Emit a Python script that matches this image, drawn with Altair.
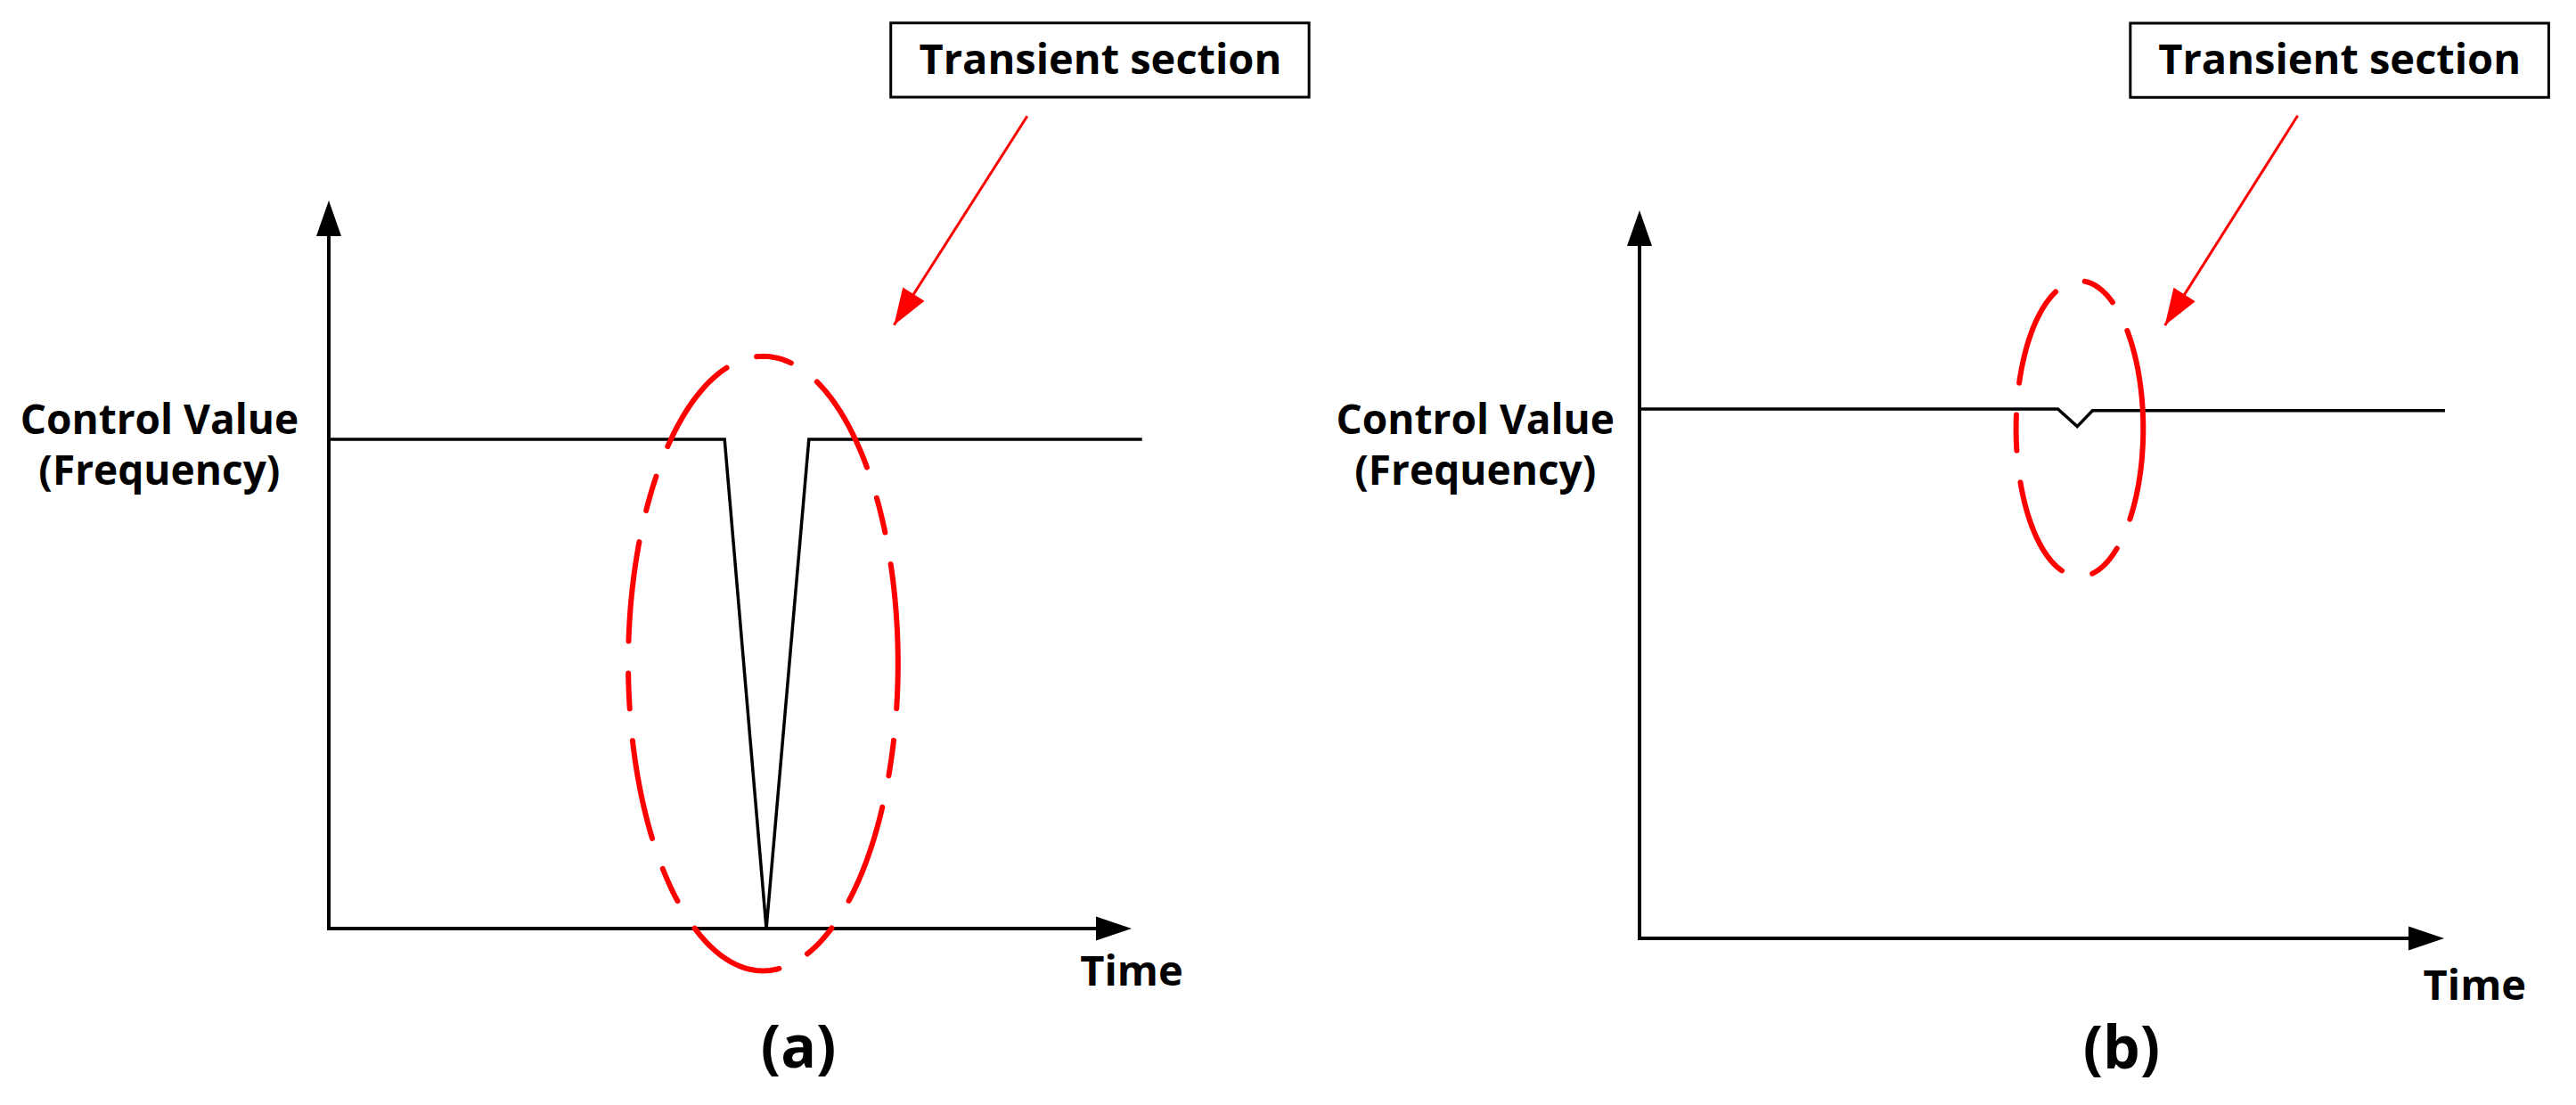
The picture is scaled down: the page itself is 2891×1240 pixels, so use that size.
import math
import altair as alt
import numpy as np
import pandas as pd

# ------------------------------------------------------------------
# Values.  Each panel uses its own units:
# the time arrow runs 0..100 and the value arrow runs 0..100.
# ------------------------------------------------------------------
# Panel (a): large transient dip
A_SIG_T = [0, 49.3, 54.5, 59.8, 101.3]
A_SIG_V = [67.2, 67.2, 0.0, 67.2, 67.2]
A_ELLIPSE = [54.1, 36.4, 16.8, 42.2]          # centre t, centre v, radius t, radius v
A_BOX = [70.0, 122.1, 114.2, 124.4]           # t1, t2, v1, v2
A_BOX_TEXT = [96.1, 117.4]
A_ARROW = [87.0, 111.6, 70.4, 82.9]           # from t, v  -> to t, v
A_YLABEL = [-21.1, 67.9]                      # t, v of first line
A_XLABEL = [100.0, -7.8]
A_TAG = [58.5, -19.1]

# Panel (b): small transient notch
B_SIG_T = [0, 52.0, 54.4, 56.3, 100.1]
B_SIG_V = [72.7, 72.7, 70.3, 72.5, 72.5]
B_ELLIPSE = [54.7, 70.0, 7.9, 20.3]
B_BOX = [61.0, 113.0, 115.5, 125.7]
B_BOX_TEXT = [87.0, 118.7]
B_ARROW = [81.8, 113.0, 65.3, 84.2]
B_YLABEL = [-20.4, 69.3]
B_XLABEL = [103.8, -8.4]
B_TAG = [59.9, -17.9]

# Texts
BOX_LABEL = "Transient section"
Y_LABEL = "Control Value\n(Frequency)"
X_LABEL = "Time"
TAGS = ["(a)", "(b)"]

# ------------------------------------------------------------------
# Layout (page pixels) and styling
# ------------------------------------------------------------------
PAGE_TOP, PAGE_BOTTOM = 8, 1232
FONT = "Open Sans"
RED = "#ff0000"
UP_HEAD = "M0,0L0.7,2L-0.7,2Z"
RIGHT_HEAD = "M0,0L-2,-0.67L-2,0.67Z"

PANELS = [
    dict(left=8, right=1482, origin=(369, 1042), kx=9.01, ky=8.17,
         sig=(A_SIG_T, A_SIG_V), ell=A_ELLIPSE, box=A_BOX, boxtext=A_BOX_TEXT,
         arrow=A_ARROW, ylab=A_YLABEL, xlab=A_XLABEL, tag=A_TAG, tagtext=TAGS[0]),
    dict(left=1482, right=2883, origin=(1840, 1053), kx=9.03, ky=8.17,
         sig=(B_SIG_T, B_SIG_V), ell=B_ELLIPSE, box=B_BOX, boxtext=B_BOX_TEXT,
         arrow=B_ARROW, ylab=B_YLABEL, xlab=B_XLABEL, tag=B_TAG, tagtext=TAGS[1]),
]


def build_panel(p):
    ox, oy = p["origin"]
    kx, ky = p["kx"], p["ky"]
    tdom = [(p["left"] - ox) / kx, (p["right"] - ox) / kx]
    vdom = [(oy - PAGE_BOTTOM) / ky, (oy - PAGE_TOP) / ky]
    width = p["right"] - p["left"]
    height = PAGE_BOTTOM - PAGE_TOP

    xs = alt.Scale(domain=tdom, nice=False, zero=False)
    ys = alt.Scale(domain=vdom, nice=False, zero=False)

    def X(f="t"):
        return alt.X(f"{f}:Q", scale=xs, axis=None)

    def Y(f="v"):
        return alt.Y(f"{f}:Q", scale=ys, axis=None)

    layers = []

    # axes (drawn as one polyline ending inside the arrow heads)
    axes = pd.DataFrame({"t": [0, 0, 97], "v": [97, 0, 0], "i": [0, 1, 2]})
    layers.append(alt.Chart(axes).mark_line(color="black", strokeWidth=4,
                                            strokeJoin="miter", strokeCap="butt")
                  .encode(x=X(), y=Y(), order="i:Q"))
    up_tip = pd.DataFrame({"t": [0], "v": [100]})
    layers.append(alt.Chart(up_tip).mark_point(shape=UP_HEAD, size=1600, filled=True,
                                               fill="black", opacity=1, strokeWidth=0)
                  .encode(x=X(), y=Y()))
    right_tip = pd.DataFrame({"t": [100], "v": [0]})
    layers.append(alt.Chart(right_tip).mark_point(shape=RIGHT_HEAD, size=1600, filled=True,
                                                  fill="black", opacity=1, strokeWidth=0)
                  .encode(x=X(), y=Y()))

    # control value signal
    st, sv = p["sig"]
    sig = pd.DataFrame({"t": st, "v": sv, "i": list(range(len(st)))})
    layers.append(alt.Chart(sig).mark_line(color="black", strokeWidth=3.5, strokeJoin="miter")
                  .encode(x=X(), y=Y(), order="i:Q"))

    # dashed ellipse around the transient section
    ct, cv, rt, rv = p["ell"]
    phi = np.linspace(0, 2 * np.pi, 361)
    ell = pd.DataFrame({"t": ct + rt * np.cos(phi), "v": cv + rv * np.sin(phi),
                        "i": np.arange(len(phi))})
    layers.append(alt.Chart(ell).mark_line(color=RED, strokeWidth=6, strokeCap="round",
                                           strokeDash=[112, 36, 40, 36])
                  .encode(x=X(), y=Y(), order="i:Q"))

    # annotation arrow
    t1, v1, t2, v2 = p["arrow"]
    arr = pd.DataFrame({"t": [t1], "v": [v1], "t2": [t2], "v2": [v2]})
    layers.append(alt.Chart(arr).mark_rule(color=RED, strokeWidth=3)
                  .encode(x=X(), y=Y(), x2="t2:Q", y2="v2:Q"))
    dx = (t2 - t1) * kx
    dy = -(v2 - v1) * ky
    ang = math.degrees(math.atan2(dx, -dy)) % 360
    head = pd.DataFrame({"t": [t2], "v": [v2]})
    layers.append(alt.Chart(head).mark_point(shape=UP_HEAD, size=1680, filled=True,
                                             fill=RED, opacity=1, strokeWidth=0, angle=ang)
                  .encode(x=X(), y=Y()))

    # label box
    b = p["box"]
    box = pd.DataFrame({"t": [b[0]], "t2": [b[1]], "v": [b[2]], "v2": [b[3]]})
    layers.append(alt.Chart(box).mark_rect(fill="white", stroke="black", strokeWidth=3)
                  .encode(x=X(), x2="t2:Q", y=Y(), y2="v2:Q"))
    bt = pd.DataFrame({"t": [p["boxtext"][0]], "v": [p["boxtext"][1]], "s": [BOX_LABEL]})
    layers.append(alt.Chart(bt).mark_text(font=FONT, fontSize=47, fontWeight="bold",
                                          align="center", baseline="alphabetic", color="black")
                  .encode(x=X(), y=Y(), text="s:N"))

    # axis labels
    yl = p["ylab"]
    ylab = pd.DataFrame({"t": [yl[0]], "v": [yl[1]], "s": [Y_LABEL]})
    layers.append(alt.Chart(ylab).mark_text(font=FONT, fontSize=46, fontWeight="bold",
                                            align="center", baseline="alphabetic", color="black",
                                            lineBreak="\n", lineHeight=57)
                  .encode(x=X(), y=Y(), text="s:N"))
    xl = pd.DataFrame({"t": [p["xlab"][0]], "v": [p["xlab"][1]], "s": [X_LABEL]})
    layers.append(alt.Chart(xl).mark_text(font=FONT, fontSize=47, fontWeight="bold",
                                          align="center", baseline="alphabetic", color="black")
                  .encode(x=X(), y=Y(), text="s:N"))
    tg = pd.DataFrame({"t": [p["tag"][0]], "v": [p["tag"][1]], "s": [p["tagtext"]]})
    layers.append(alt.Chart(tg).mark_text(font=FONT, fontSize=66, fontWeight="bold",
                                          align="center", baseline="alphabetic", color="black")
                  .encode(x=X(), y=Y(), text="s:N"))

    return alt.layer(*layers).properties(width=width, height=height)


chart = (
    alt.hconcat(*[build_panel(p) for p in PANELS], spacing=0, bounds="flush")
    .properties(padding=0, background="white")
    .configure_view(stroke=None)
)

chart.save("out.html", embed_options={"renderer": "svg", "actions": False})
